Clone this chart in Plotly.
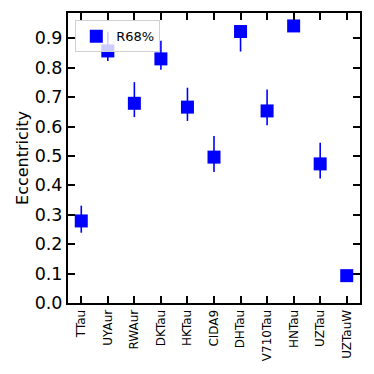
import plotly.graph_objects as go

stars = ["TTau", "UYAur", "RWAur", "DKTau", "HKTau", "CIDA9", "DHTau",
         "V710Tau", "HNTau", "UZTau", "UZTauW"]
ecc = [0.279, 0.857, 0.679, 0.830, 0.666, 0.496, 0.923, 0.653, 0.942, 0.473, 0.093]
err_plus = [0.052, 0.065, 0.072, 0.062, 0.066, 0.072, 0.0, 0.073, 0.0, 0.072, 0.0]
err_minus = [0.040, 0.034, 0.047, 0.037, 0.047, 0.051, 0.068, 0.049, 0.0, 0.050, 0.0]

BLUE = "#0000ff"

fig = go.Figure()
fig.add_trace(go.Scatter(
    x=list(range(len(stars))),
    y=ecc,
    mode="markers",
    name="R68%",
    marker=dict(symbol="square", size=13, color=BLUE, line=dict(width=0)),
    error_y=dict(type="data", symmetric=False, array=err_plus, arrayminus=err_minus,
                 color=BLUE, thickness=1.6, width=0),
))

axis_common = dict(
    showline=True, linecolor="black", linewidth=2, mirror="ticks",
    ticks="inside", ticklen=7, tickwidth=2, tickcolor="black",
    showgrid=False, zeroline=False, automargin=False,
)

# page body adds ~8px offset, so the figure is shrunk to keep the plot box in place
fig.update_layout(
    width=366, height=366,
    margin=dict(l=60, r=14, t=5, b=71),
    plot_bgcolor="white", paper_bgcolor="white",
    font=dict(family="DejaVu Sans", color="black"),
    showlegend=True,
    legend=dict(x=0.025, y=0.975, xanchor="left", yanchor="top",
                bgcolor="rgba(255,255,255,0.8)", bordercolor="#d0d0d0", borderwidth=1,
                font=dict(size=13), itemwidth=30),
    xaxis=dict(
        **axis_common,
        tickmode="array", tickvals=list(range(len(stars))), ticktext=stars,
        tickangle=-90, tickfont=dict(size=12), range=[-0.5, len(stars) - 0.5],
    ),
    yaxis=dict(
        **axis_common,
        range=[0, 0.986], dtick=0.1, tickformat=".1f", tickfont=dict(size=17.5),
        title=dict(text="Eccentricity", font=dict(size=16), standoff=2),
    ),
)

fig.write_html("out.html")
